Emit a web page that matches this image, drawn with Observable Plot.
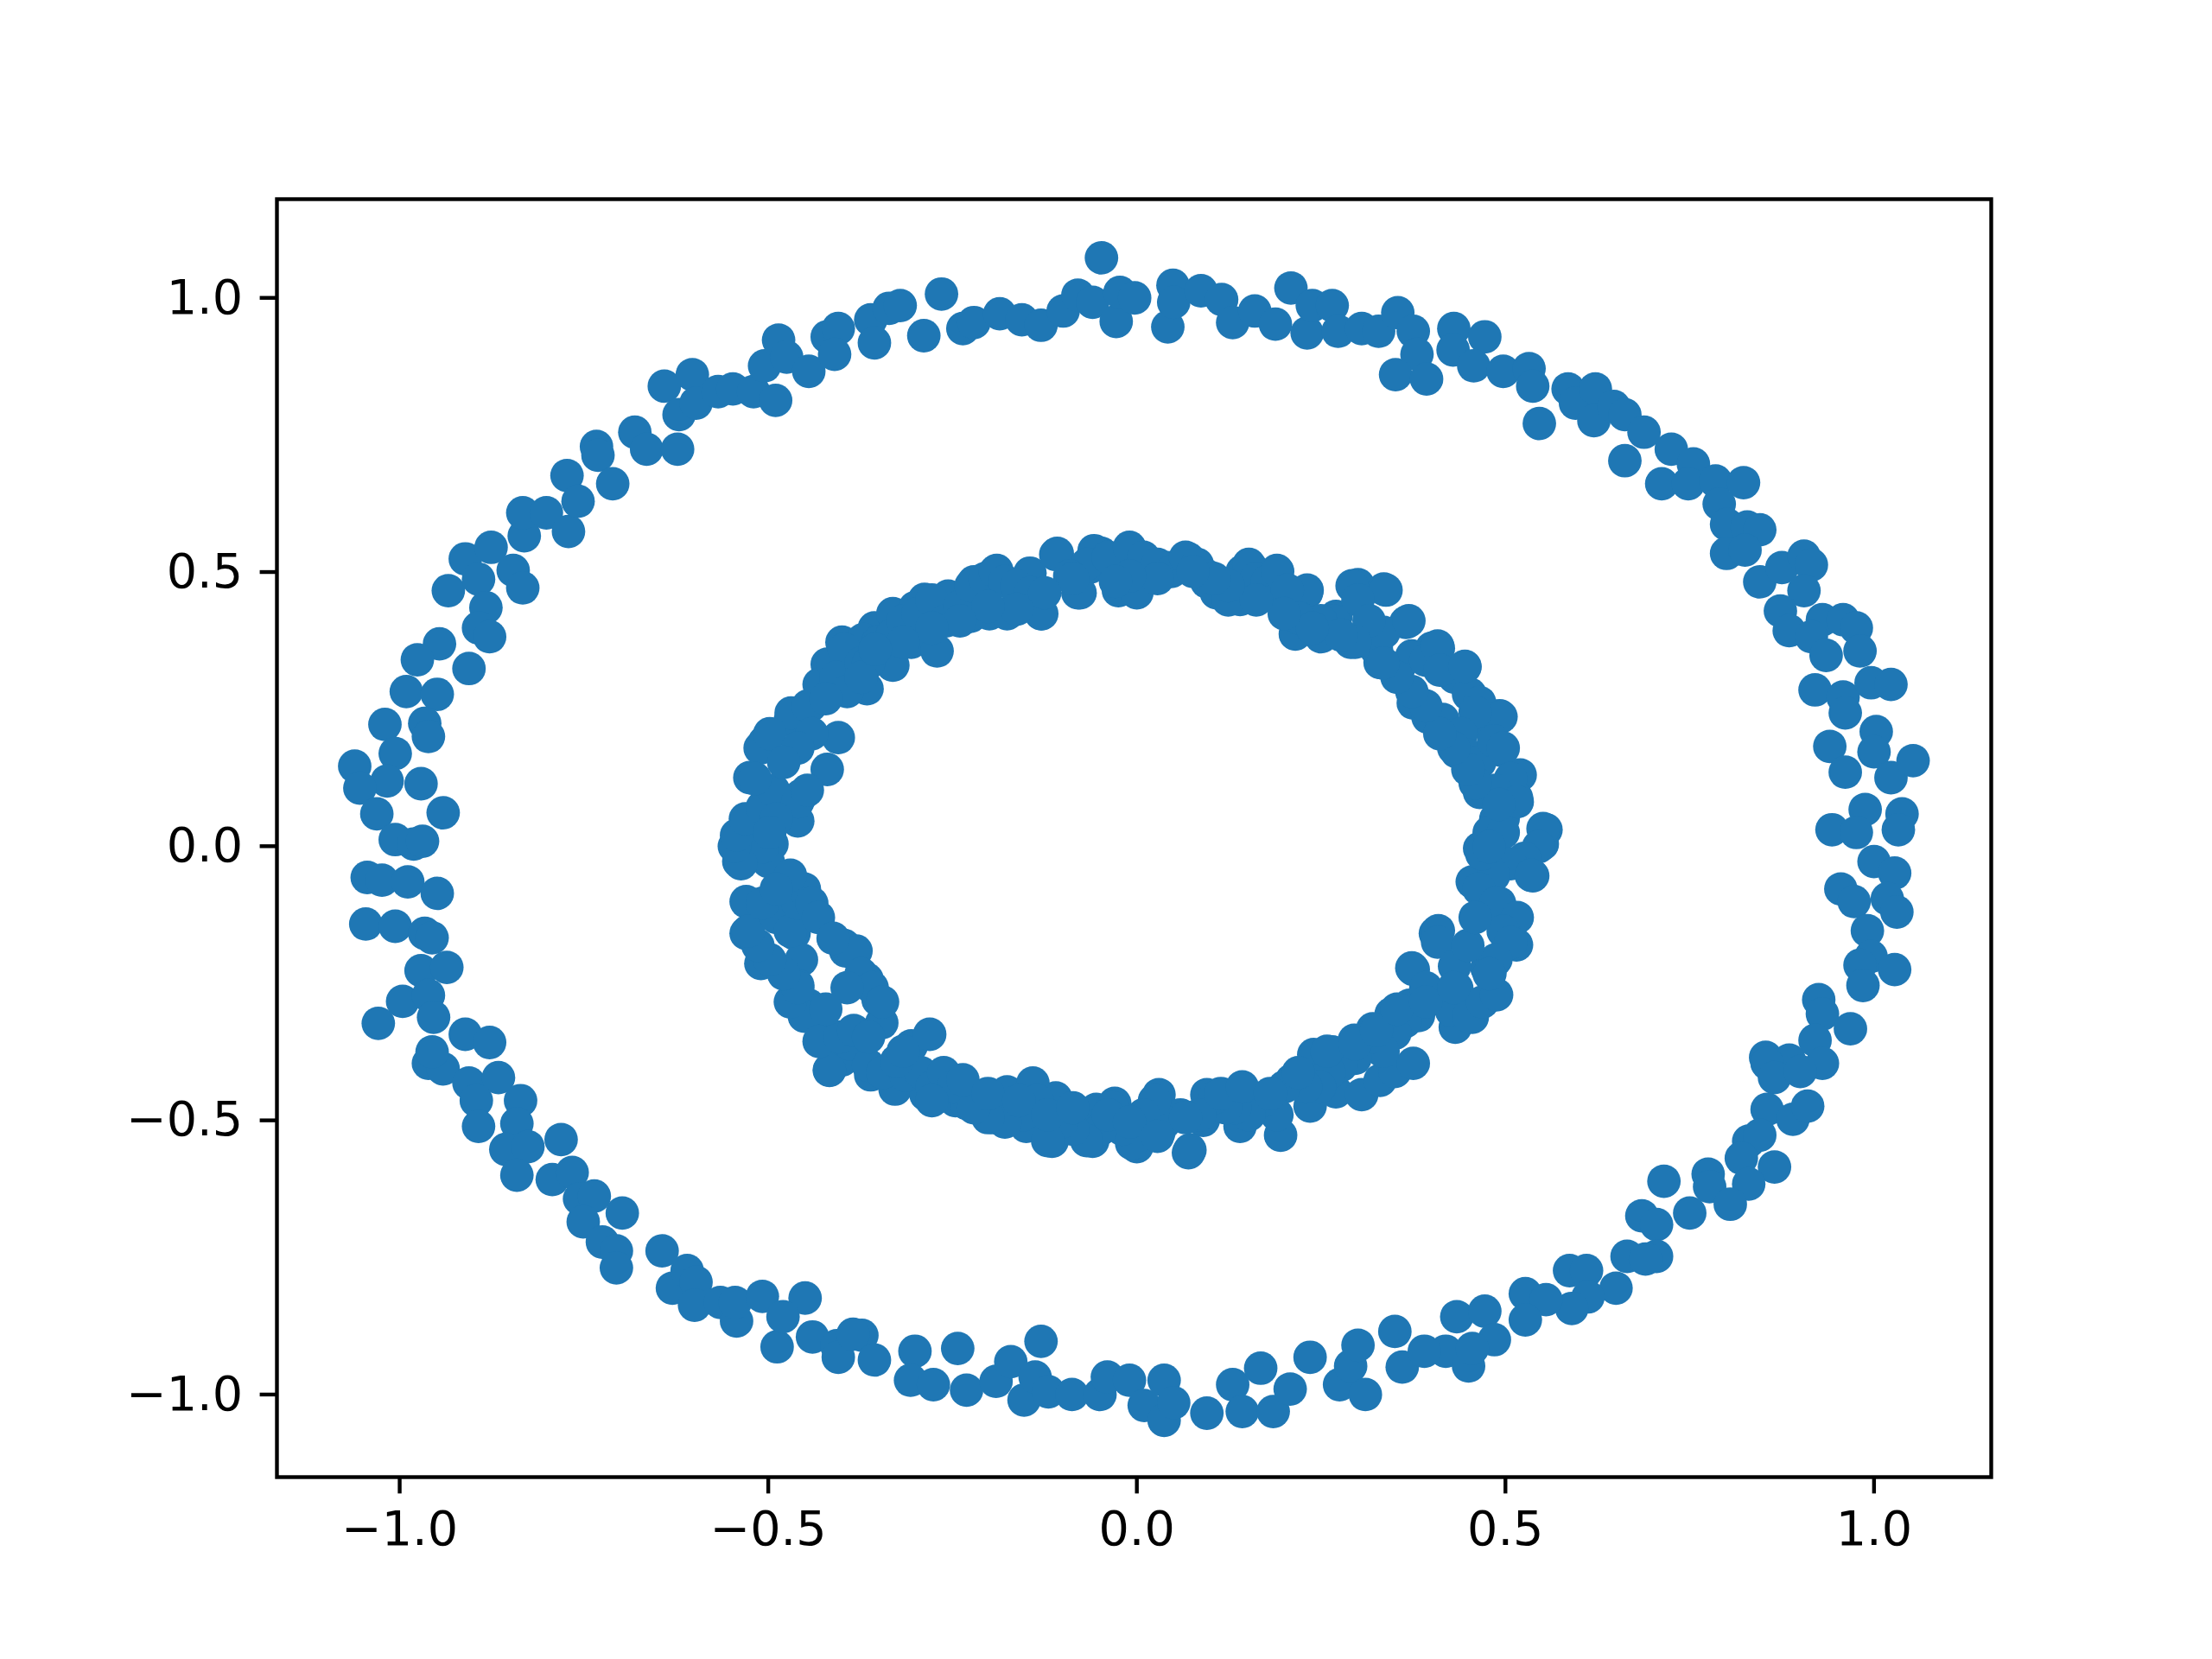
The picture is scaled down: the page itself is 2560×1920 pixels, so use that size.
<!DOCTYPE html>
<html>
<head>
<meta charset="utf-8">
<script src="https://cdn.jsdelivr.net/npm/d3@7"></script>
<script src="https://cdn.jsdelivr.net/npm/@observablehq/plot@0.6"></script>
<style>
  html, body { margin: 0; padding: 0; background: #fff; }
  #chart { width: 2560px; height: 1920px; }
</style>
</head>
<body>
<div id="chart"></div>
<script>
// Outer ring points [x, y]
const outerRing = [
  [-0.934,0.466],[-0.911,0.524],[-0.893,0.487],[-0.883,0.435],[-0.893,0.398],[-0.876,0.545],[-0.846,0.503],[-0.833,0.471],
  [-0.831,0.566],[-0.833,0.608],[-0.801,0.608],[-0.771,0.574],[-0.773,0.676],[-0.758,0.629],[-0.733,0.729],[-0.731,0.713],
  [-0.711,0.661],[-0.681,0.755],[-0.665,0.724],[-0.641,0.839],[-0.623,0.724],[-0.621,0.787],[-0.603,0.86],[-0.598,0.808],
  [-0.568,0.829],[-0.548,0.834],[-0.52,0.829],[-0.505,0.876],[-0.49,0.813],[-0.486,0.923],[-0.475,0.892],[-0.445,0.866],
  [-0.42,0.929],[-0.405,0.944],[-0.41,0.897],
  [-0.361,0.96],[-0.356,0.918],[-0.336,0.981],[-0.321,0.986],[-0.289,0.931],[-0.265,1.007],[-0.236,0.944],[-0.221,0.955],
  [-0.186,0.971],[-0.156,0.96],[-0.13,0.95],[-0.1,0.976],[-0.08,1.005],[-0.06,0.992],[-0.048,1.073],[-0.028,0.957],
  [-0.023,1.01],[-0.003,1.0],[0.042,0.947],[0.049,1.023],[0.05,0.992],[0.087,1.013],[0.115,0.997],[0.13,0.955],
  [0.16,0.976],[0.188,0.952],[0.209,1.018],[0.231,0.936],[0.238,0.986],[0.265,0.986],[0.273,0.939],[0.305,0.944],
  [0.328,0.939],[0.354,0.973],[0.375,0.939],[0.38,0.897],[0.351,0.86],[0.393,0.852],
  [0.43,0.944],[0.472,0.929],[0.429,0.905],[0.457,0.876],[0.497,0.866],[0.532,0.871],[0.537,0.839],[0.546,0.771],
  [0.585,0.834],[0.595,0.808],[0.622,0.834],[0.62,0.776],[0.647,0.802],[0.662,0.787],[0.662,0.703],[0.688,0.755],
  [0.725,0.724],[0.755,0.697],[0.712,0.661],[0.748,0.661],[0.785,0.666],[0.823,0.663],[0.79,0.624],[0.8,0.587],
  [0.828,0.582],[0.845,0.577],[0.8,0.534],[0.825,0.54],[0.845,0.482],[0.875,0.508],[0.905,0.529],[0.915,0.513],
  [0.905,0.466],[0.873,0.429],[0.93,0.413],[0.958,0.413],[0.976,0.398],
  [0.885,0.393],[0.915,0.382],[0.935,0.348],[0.981,0.356],[0.92,0.285],[0.958,0.272],[0.996,0.298],[1.023,0.295],
  [0.961,0.243],[1.003,0.209],[0.94,0.182],[1.0,0.172],[0.961,0.135],[1.023,0.125],[1.053,0.156],[0.988,0.067],
  [1.038,0.059],[0.943,0.03],[0.976,0.025],[1.033,0.03],[1.0,-0.028],[1.028,-0.049],[0.955,-0.078],[0.973,-0.101],
  [1.018,-0.096],[1.031,-0.12],[0.991,-0.154],[0.996,-0.201],[0.981,-0.217],[1.028,-0.225],[0.985,-0.254],[0.925,-0.28],
  [0.93,-0.306],[0.968,-0.333],[0.92,-0.354],[0.853,-0.385],[0.885,-0.39],
  [0.855,-0.396],[0.93,-0.396],[0.865,-0.422],[0.9,-0.411],[0.855,-0.48],[0.89,-0.498],[0.91,-0.474],[0.83,-0.538],
  [0.845,-0.527],[0.82,-0.569],[0.865,-0.585],[0.83,-0.616],[0.775,-0.598],[0.777,-0.621],[0.805,-0.653],[0.715,-0.611],
  [0.685,-0.674],[0.705,-0.69],[0.75,-0.669],[0.665,-0.748],[0.705,-0.748],[0.69,-0.753],[0.587,-0.774],[0.61,-0.774],
  [0.65,-0.806],[0.612,-0.822],[0.59,-0.843],[0.527,-0.816],[0.555,-0.827],[0.527,-0.864],[0.434,-0.858],[0.472,-0.848],
  [0.419,-0.921],[0.45,-0.948],[0.485,-0.9],[0.455,-0.916],
  [-0.373,-0.892],[-0.356,-0.937],[-0.301,-0.921],[-0.307,-0.974],[-0.276,-0.982],[-0.243,-0.916],[-0.231,-0.992],
  [-0.191,-0.976],[-0.171,-0.94],[-0.153,-1.01],[-0.13,-0.903],[-0.138,-0.968],[-0.12,-0.995],[-0.088,-1.0],[-0.05,-1.0],
  [-0.04,-0.968],[-0.01,-0.974],[0.01,-1.02],[0.037,-0.974],[0.037,-1.047],[0.05,-1.015],[0.095,-1.034],[0.13,-0.982],
  [0.143,-1.031],[0.168,-0.952],[0.185,-1.031],[0.208,-0.99],[0.235,-0.932],[0.275,-0.982],[0.29,-0.948],[0.3,-0.91],
  [0.31,-1.0],[0.35,-0.885],[0.36,-0.95],[0.39,-0.921],
  [-0.961,-0.396],[-0.941,-0.406],[-0.906,-0.432],[-0.866,-0.422],[-0.896,-0.464],[-0.836,-0.464],[-0.893,-0.511],
  [-0.841,-0.506],[-0.856,-0.553],[-0.826,-0.548],[-0.781,-0.535],[-0.841,-0.6],[-0.793,-0.608],[-0.766,-0.595],
  [-0.756,-0.643],[-0.736,-0.638],[-0.751,-0.685],[-0.698,-0.669],[-0.725,-0.722],[-0.706,-0.738],[-0.706,-0.769],
  [-0.644,-0.738],[-0.63,-0.806],[-0.61,-0.774],[-0.598,-0.795],[-0.6,-0.837],[-0.565,-0.832],[-0.543,-0.866],
  [-0.545,-0.832],[-0.508,-0.821],[-0.488,-0.913],[-0.45,-0.824],[-0.48,-0.858],[-0.44,-0.895],[-0.407,-0.911],
  [-0.405,-0.932],[-0.385,-0.89],
  [-0.946,0.369],[-0.906,0.324],[-0.878,0.382],[-0.976,0.34],[-0.991,0.282],[-0.949,0.277],[-1.02,0.222],[-0.966,0.224],
  [-0.961,0.2],[-1.006,0.169],[-1.061,0.146],[-1.017,0.119],[-0.971,0.114],[-1.054,0.106],[-1.031,0.059],[-0.941,0.061],
  [-1.006,0.012],[-0.981,0.004],[-0.969,0.009],[-1.044,-0.057],[-1.024,-0.062],[-0.989,-0.065],[-0.949,-0.086],
  [-1.046,-0.142],[-1.006,-0.146],[-0.966,-0.159],[-0.956,-0.167],[-0.971,-0.227],[-0.936,-0.221],[-0.996,-0.283],
  [-0.961,-0.272],[-0.954,-0.312],[-1.029,-0.323],[-0.911,-0.343],[-0.878,-0.358],[-0.956,-0.375]
];

// Inner ring points [x, y]
const innerRing = [
  [-0.356,0.398],[-0.331,0.424],[-0.301,0.435],[-0.288,0.45],[-0.256,0.456],[-0.266,0.424],[-0.221,0.482],[-0.226,0.419],
  [-0.19,0.503],[-0.2,0.424],[-0.176,0.424],[-0.145,0.498],[-0.13,0.424],[-0.108,0.534],[-0.08,0.462],[-0.065,0.508],
  [-0.048,0.534],[-0.025,0.466],[-0.008,0.54],[0.0,0.462],[0.03,0.498],[0.04,0.508],[0.07,0.524],[0.095,0.482],
  [0.14,0.45],[0.155,0.508],[0.17,0.456],[0.19,0.503],[0.23,0.462],[0.27,0.419],[0.3,0.477],[0.335,0.469],[0.365,0.408],
  [0.22,0.403],
  [-0.4,0.372],[-0.42,0.332],[-0.443,0.256],[-0.47,0.23],[-0.405,0.198],[-0.505,0.19],[-0.42,0.14],[-0.525,0.125],
  [-0.455,0.093],[-0.515,0.056],[-0.46,0.046],[-0.535,0.014],[-0.495,0.004],[-0.54,-0.028],[-0.5,-0.028],[-0.47,-0.07],
  [-0.53,-0.101],[-0.455,-0.112],[-0.53,-0.159],[-0.465,-0.159],[-0.51,-0.214],[-0.455,-0.207],[-0.395,-0.191],
  [-0.46,-0.254],[-0.445,-0.29],[-0.425,-0.333],[-0.405,-0.369],[-0.4,-0.39],
  [-0.371,0.377],[-0.341,0.361],[-0.306,0.372],[-0.271,0.356],[-0.366,0.287],[-0.331,0.33],
  [0.215,0.387],[0.25,0.382],[0.29,0.372],[0.33,0.335],[0.355,0.324],[0.375,0.261],[0.4,0.361],[0.395,0.235],
  [-0.381,-0.191],[-0.366,-0.243],[-0.351,-0.28],[-0.346,-0.322],[-0.306,-0.364],[-0.281,-0.343],
  [0.405,-0.159],[0.375,-0.225],[0.345,-0.306],[0.32,-0.333],[0.295,-0.354],[0.265,-0.375],[0.24,-0.38],[0.37,-0.29],
  [0.409,0.361],[0.445,0.327],[0.452,0.277],[0.492,0.238],[0.414,0.219],[0.434,0.172],[0.494,0.175],[0.52,0.13],
  [0.465,0.098],[0.515,0.088],[0.555,0.03],[0.497,0.051],[0.55,0.004],[0.465,-0.004],[0.537,-0.054],[0.455,-0.065],
  [0.492,-0.104],[0.505,-0.149],[0.515,-0.18],[0.475,-0.222],[0.409,-0.154],[0.434,-0.259],[0.455,-0.312],[0.432,-0.33],
  [-0.361,-0.417],[-0.328,-0.443],[-0.286,-0.453],[-0.246,-0.464],[-0.231,-0.469],[-0.195,-0.495],[-0.176,-0.448],
  [-0.15,-0.511],[-0.141,-0.432],[-0.115,-0.538],[-0.11,-0.459],[-0.06,-0.538],[-0.055,-0.48],[-0.03,-0.469],
  [0.0,-0.548],[0.0,-0.5],[0.03,-0.453],[0.03,-0.522],[0.07,-0.559],[0.09,-0.5],[0.095,-0.453],[0.14,-0.511],
  [0.17,-0.459],[0.195,-0.527],[0.21,-0.427],[0.235,-0.474],[0.27,-0.448],[0.305,-0.453],[0.33,-0.427],[0.35,-0.411],
  [0.375,-0.396],
  [-0.417,-0.409],
  [-0.469,0.243],[-0.446,0.256],[-0.431,0.295],[-0.412,0.334],[-0.397,0.359],[-0.511,0.179],[-0.498,0.205],
  [-0.408,0.308],[-0.374,0.334],
  [-0.417,-0.408],[-0.389,-0.361],[-0.364,-0.4],[-0.345,-0.413],[-0.313,-0.418],[-0.293,-0.413],[-0.278,-0.439],
  [-0.262,-0.413],[-0.249,-0.439],[-0.451,-0.31],[-0.431,-0.356],
  [0.373,0.347],[0.392,0.339],[0.408,0.365],[0.431,0.308],[0.45,0.277],[0.465,0.262],[0.478,0.218],[0.494,0.236],
  [0.459,0.244],[0.325,0.359],[0.335,0.39],[0.338,0.467],[0.369,0.411],[0.292,0.475],[0.3,0.449],[0.315,0.411],
  [0.267,0.411],[0.249,0.411],[0.231,0.467],[0.22,0.416],[0.204,0.467],
  [0.408,-0.175],[0.431,-0.219],[0.373,-0.222],[0.392,-0.258],[0.427,-0.3],[0.45,-0.31],[0.469,-0.284],[0.488,-0.271],
  [0.479,-0.232],[0.382,-0.309],[0.364,-0.32],
  [-0.058,0.539],[-0.068,0.514],[-0.039,0.527],[-0.01,0.545],[0.009,0.527],[0.028,0.514],[0.047,0.501],[0.066,0.527],
  [0.082,0.514],[0.095,0.493],[0.108,0.462],[0.124,0.449],[0.143,0.501],[0.152,0.514],[0.162,0.488],[0.177,0.483],
  [0.191,0.501],[0.204,0.467],[0.22,0.416],[0.411,0.321],[0.445,0.328],[0.415,0.231],[0.44,0.205],[0.449,0.166],
  [0.465,0.153],[0.484,0.192],[0.497,0.179],[0.507,0.123],[0.487,0.102],[0.516,0.081],[0.487,0.05],[0.478,0.025],
  [0.497,0.025],[0.551,0.032],[0.545,-0.001],[0.526,-0.022],[0.507,-0.032],[0.484,-0.053],[0.464,-0.078],
  [0.487,-0.104],[0.516,-0.13],[0.535,-0.053],[0.497,-0.155],[0.507,-0.176],[0.487,-0.207],[0.478,-0.233],
  [0.35,-0.341],[0.334,-0.374],[0.315,-0.349],[0.296,-0.387],[0.277,-0.4],[0.261,-0.413],[0.248,-0.439],[0.229,-0.439],
  [0.2,-0.439],[0.19,-0.49],[0.171,-0.464],[0.152,-0.49],[0.133,-0.477],[0.12,-0.477],[0.105,-0.459],[0.085,-0.49],
  [0.072,-0.554],[0.059,-0.49],[0.038,-0.503],[0.024,-0.464],[0.009,-0.49],[-0.007,-0.542],[-0.02,-0.516],
  [-0.033,-0.477],[-0.049,-0.516],[-0.068,-0.537],[-0.087,-0.516],[-0.102,-0.503],[-0.121,-0.537],[-0.135,-0.464],
  [-0.154,-0.49],[-0.179,-0.503],[-0.202,-0.495],[-0.221,-0.477],[-0.326,-0.392],[-0.403,-0.348],
  [-0.47,-0.284],[-0.46,-0.258],[-0.479,-0.233],[-0.498,-0.207],[-0.514,-0.181],[-0.527,-0.155],[-0.489,-0.13],
  [-0.47,-0.155],[-0.46,-0.104],[-0.451,-0.078],[-0.441,-0.104],[-0.432,-0.13],[-0.397,-0.181],[-0.384,-0.194],
  [-0.374,-0.233],[-0.359,-0.258],[-0.345,-0.284],[-0.47,-0.053],[-0.508,-0.001],[-0.537,-0.032],[-0.546,0.0],
  [-0.543,0.02],[-0.531,0.05],[-0.508,0.071],[-0.493,0.102],[-0.518,0.123],[-0.46,0.081],[-0.447,0.102],
  [-0.364,0.334],[-0.351,0.372],[-0.332,0.385],[-0.317,0.411],[-0.297,0.424],[-0.278,0.449],[-0.259,0.411],
  [-0.24,0.437],[-0.225,0.475],[-0.206,0.488],[-0.192,0.501],[-0.179,0.483],[-0.163,0.475],[-0.144,0.462],
  [-0.129,0.424],[-0.11,0.532],[-0.091,0.493],[-0.077,0.462],
  [-0.393,0.282],[-0.374,0.308],[-0.422,0.269],[-0.441,0.205],[-0.46,0.179],[-0.479,0.153],[-0.489,0.05],[-0.498,0.025],
  [-0.508,-0.104],[-0.489,-0.078],[-0.412,-0.168],[-0.393,-0.258],[-0.422,-0.297],[-0.384,-0.336],
  [-0.364,-0.348],[-0.317,-0.374],[-0.278,-0.464],[-0.236,-0.426],[-0.202,-0.451],[-0.16,-0.464],[-0.121,-0.49],
  [-0.087,-0.477],[-0.039,-0.49],[-0.01,-0.503],[0.028,-0.529],[0.066,-0.495],[0.114,-0.451],[0.143,-0.439],
  [0.181,-0.451],[0.219,-0.413],[0.258,-0.374],[0.296,-0.361],[0.325,-0.336],[0.353,-0.297],[0.392,-0.284],
  [0.43,-0.258],[0.449,-0.181],[0.459,-0.13],[0.468,-0.014],[0.478,-0.001],[0.491,0.076],[0.459,0.115],[0.449,0.14],
  [0.43,0.179],[0.411,0.205],[0.392,0.256],[0.373,0.282],[0.353,0.308],[0.334,0.334],[0.296,0.372],[0.277,0.385],
  [0.238,0.398],[0.2,0.424],[0.162,0.449],[0.124,0.475],[0.105,0.488],[0.076,0.501],[0.028,0.488],[-0.01,0.493],
  [-0.029,0.483],[-0.087,0.488],[-0.125,0.462],[-0.163,0.432],[-0.202,0.437],[-0.24,0.411],[-0.278,0.398],
  [-0.317,0.372],[-0.355,0.359]
];

const xTicks = [-1.0, -0.5, 0.0, 0.5, 1.0];
const yTicks = [-1.0, -0.5, 0.0, 0.5, 1.0];

const points = [...outerRing, ...innerRing].map(([x, y]) => ({x, y}));
const fmt = d => (d < 0 ? "\u2212" : "") + Math.abs(d).toFixed(1);

const chart = Plot.plot({
  width: 2560,
  height: 1920,
  marginLeft: 320,
  marginRight: 256,
  marginTop: 230,
  marginBottom: 211,
  style: {fontFamily: "'DejaVu Sans', sans-serif", fontSize: "55.6px", background: "#fff", color: "#000"},
  x: {domain: [-1.1665, 1.159], ticks: xTicks, tickFormat: fmt, label: null},
  y: {domain: [-1.1506, 1.180], ticks: yTicks, tickFormat: fmt, label: null},
  marks: [
    Plot.dot(points, {x: "x", y: "y", r: 19.4, fill: "#1f77b4", stroke: "none"}),
    Plot.frame({stroke: "#000", strokeWidth: 4.4}),
    Plot.axisX({ticks: xTicks, tickFormat: fmt, tickSize: 19.4, tickPadding: 20, strokeWidth: 4.4, fontSize: 55.6, label: null}),
    Plot.axisY({ticks: yTicks, tickFormat: fmt, tickSize: 19.4, tickPadding: 20, strokeWidth: 4.4, fontSize: 55.6, label: null})
  ]
});
document.getElementById("chart").appendChild(chart);
</script>
</body>
</html>
